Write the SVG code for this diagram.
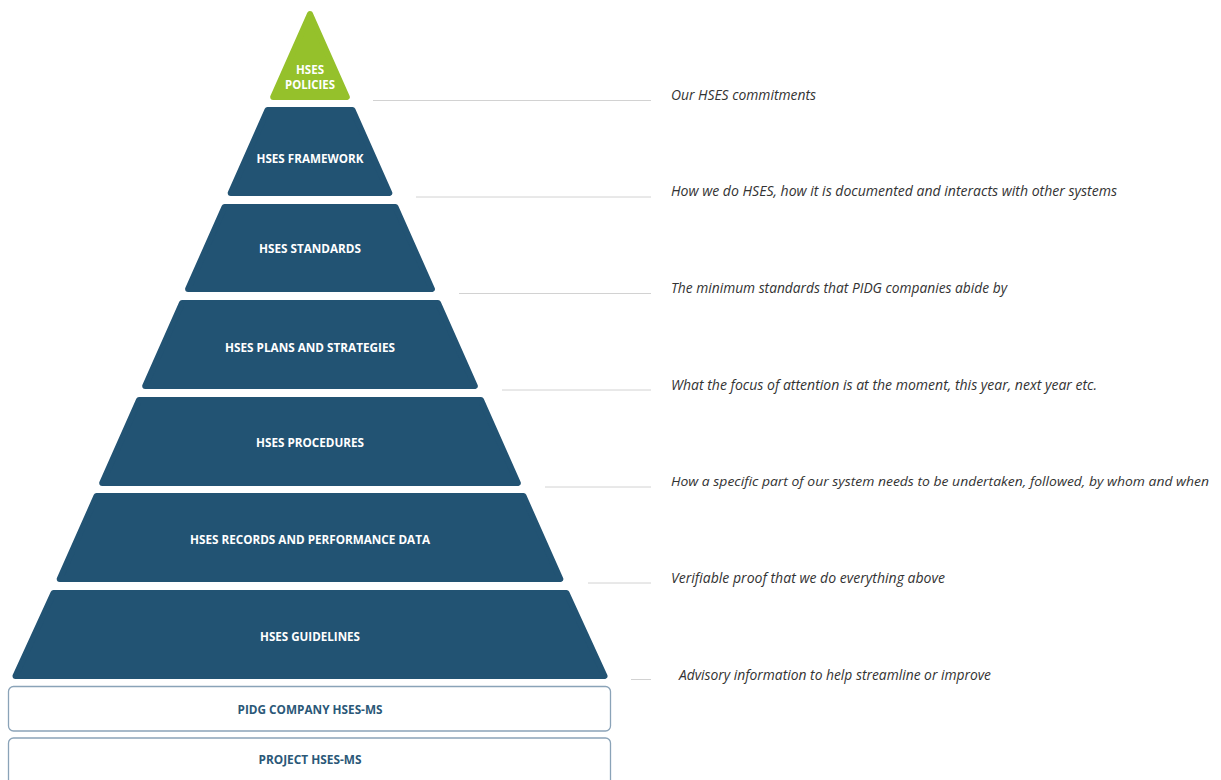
<svg xmlns="http://www.w3.org/2000/svg" width="1221" height="780" viewBox="0 0 1221 780">
<style>
.layer{fill:#225373;stroke:#225373;stroke-width:6;stroke-linejoin:round}
.tip{fill:#95c12b;stroke:#95c12b;stroke-width:6;stroke-linejoin:round}
.lbl{font-family:"Open Sans","Noto Sans",sans-serif;font-weight:bold;font-size:12.5px;fill:#ffffff;text-anchor:middle}
.blbl{font-family:"Open Sans","Noto Sans",sans-serif;font-weight:bold;font-size:12.5px;fill:#2b5878;text-anchor:middle}
.desc{font-family:"Open Sans","Noto Sans",sans-serif;font-style:italic;font-size:14.5px;fill:#333333}
.conn{stroke:#d2d2d2;stroke-width:1;fill:none}
.box{fill:#ffffff;stroke:#8aa3b8;stroke-width:1.3}
</style>
<rect width="1221" height="780" fill="#ffffff"/>
<g id="connectors">
<line class="conn" x1="373" y1="100.5" x2="651" y2="100.5"/>
<line class="conn" x1="416" y1="197" x2="651" y2="197"/>
<line class="conn" x1="459" y1="293.5" x2="651" y2="293.5"/>
<line class="conn" x1="502" y1="390" x2="651" y2="390"/>
<line class="conn" x1="545" y1="487" x2="651" y2="487"/>
<line class="conn" x1="588" y1="583" x2="651" y2="583"/>
<line class="conn" x1="631" y1="679.5" x2="651" y2="679.5"/>
</g>
<g id="policies">
<polygon class="tip" points="310,14 346.8,97 273.2,97"/>
<text class="lbl" x="310" y="74" textLength="28" lengthAdjust="spacingAndGlyphs">HSES</text>
<text class="lbl" x="310" y="89" textLength="50" lengthAdjust="spacingAndGlyphs">POLICIES</text>
<text class="desc" x="671" y="100" textLength="145" lengthAdjust="spacingAndGlyphs">Our HSES commitments</text>
</g>
<g id="framework">
<polygon class="layer" points="267.5,110 352.5,110 389.3,193 230.7,193"/>
<text class="lbl" x="310" y="163" textLength="107" lengthAdjust="spacingAndGlyphs">HSES FRAMEWORK</text>
<text class="desc" x="671" y="196" textLength="446" lengthAdjust="spacingAndGlyphs">How we do HSES, how it is documented and interacts with other systems</text>
</g>
<g id="standards">
<polygon class="layer" points="224.5,207 395.5,207 431.9,289 188.1,289"/>
<text class="lbl" x="310" y="253" textLength="102" lengthAdjust="spacingAndGlyphs">HSES STANDARDS</text>
<text class="desc" x="671" y="293" textLength="336" lengthAdjust="spacingAndGlyphs">The minimum standards that PIDG companies abide by</text>
</g>
<g id="plans">
<polygon class="layer" points="182,303 438,303 474.8,386 145.2,386"/>
<text class="lbl" x="310" y="352" textLength="170" lengthAdjust="spacingAndGlyphs">HSES PLANS AND STRATEGIES</text>
<text class="desc" x="671" y="390" textLength="426" lengthAdjust="spacingAndGlyphs">What the focus of attention is at the moment, this year, next year etc.</text>
</g>
<g id="procedures">
<polygon class="layer" points="139,400 481,400 517.8,483 102.2,483"/>
<text class="lbl" x="310" y="447" textLength="108" lengthAdjust="spacingAndGlyphs">HSES PROCEDURES</text>
<text class="desc" x="671" y="486" style="font-size:13.5px" textLength="538" lengthAdjust="spacingAndGlyphs">How a specific part of our system needs to be undertaken, followed, by whom and when</text>
</g>
<g id="records">
<polygon class="layer" points="96.5,496 523.5,496 560.3,579 59.7,579"/>
<text class="lbl" x="310" y="544" textLength="240" lengthAdjust="spacingAndGlyphs">HSES RECORDS AND PERFORMANCE DATA</text>
<text class="desc" x="671" y="583" textLength="274" lengthAdjust="spacingAndGlyphs">Verifiable proof that we do everything above</text>
</g>
<g id="guidelines">
<polygon class="layer" points="53.5,593 566.5,593 604.5,676 15.5,676"/>
<text class="lbl" x="310" y="641" textLength="100" lengthAdjust="spacingAndGlyphs">HSES GUIDELINES</text>
<text class="desc" x="679" y="680" textLength="312" lengthAdjust="spacingAndGlyphs">Advisory information to help streamline or improve</text>
</g>
<g id="company-ms">
<rect class="box" x="8.5" y="686.5" width="602" height="44.5" rx="5"/>
<text class="blbl" x="310" y="713.5" textLength="145" lengthAdjust="spacingAndGlyphs">PIDG COMPANY HSES-MS</text>
</g>
<g id="project-ms">
<rect class="box" x="8.5" y="738" width="602" height="60" rx="5"/>
<text class="blbl" x="310" y="764" textLength="103" lengthAdjust="spacingAndGlyphs">PROJECT HSES-MS</text>
</g>
</svg>
